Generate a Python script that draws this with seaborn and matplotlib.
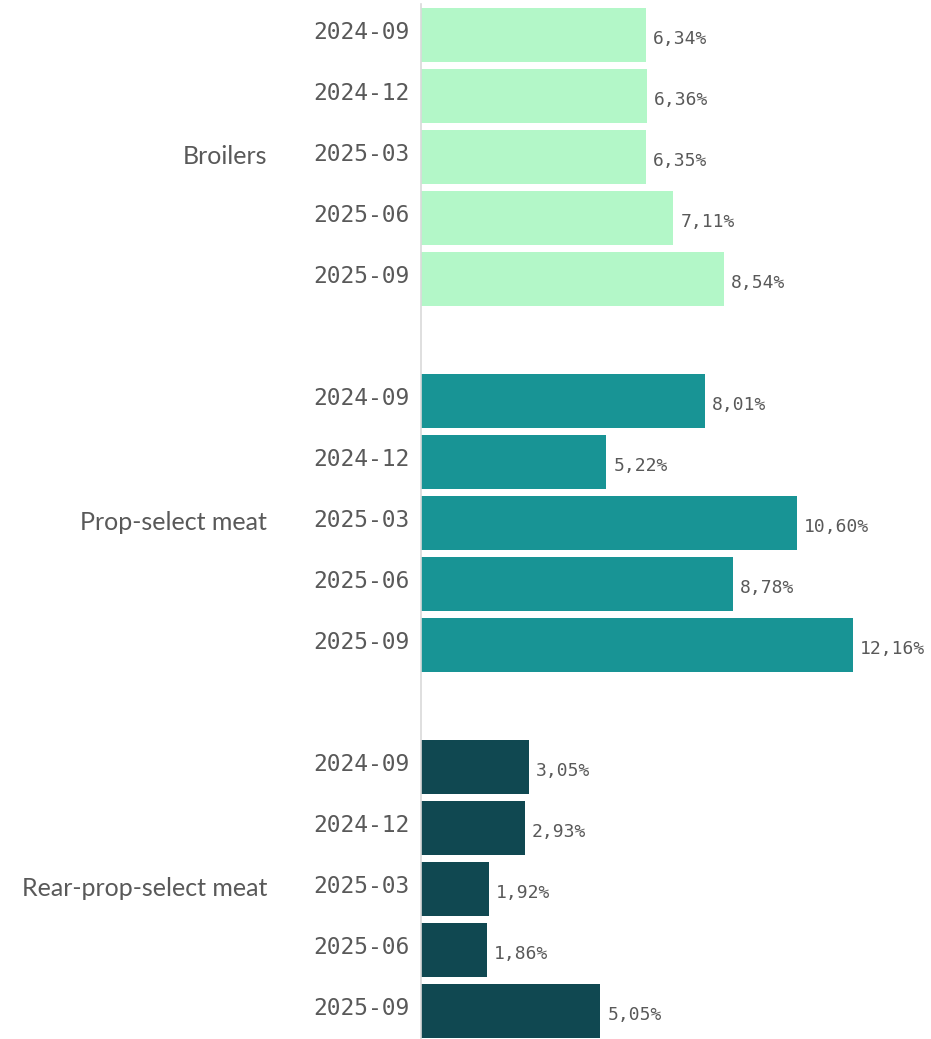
import matplotlib
matplotlib.use("Agg")
import matplotlib.pyplot as plt
import matplotlib.transforms as mtransforms
import seaborn as sns
import pandas as pd

groups = ["Broilers", "Prop-select meat", "Rear-prop-select meat"]
periods = ["2024-09", "2024-12", "2025-03", "2025-06", "2025-09"]
broilers = [6.34, 6.36, 6.35, 7.11, 8.54]
prop_select = [8.01, 5.22, 10.60, 8.78, 12.16]
rear_prop_select = [3.05, 2.93, 1.92, 1.86, 5.05]
colors = ["#b3f7c8", "#189495", "#104851"]

values = [broilers, prop_select, rear_prop_select]
rows = []
for g, vals in zip(groups, values):
    for p, v in zip(periods, vals):
        rows.append({"group": g, "period": p, "key": f"{g}|{p}", "value": v})
df = pd.DataFrame(rows)

order = []
ticklabels = []
for i, g in enumerate(groups):
    for p in periods:
        order.append(f"{g}|{p}")
        ticklabels.append(p)
    if i < len(groups) - 1:
        order.append(f"spacer{i}")
        ticklabels.append("")

sns.set_style("white")
W, H = 931, 1039
fig = plt.figure(figsize=(W / 100, H / 100), dpi=100)
pitch = 61
top_px = 35 - pitch / 2
n = len(order)
ax_left = 421 / W
ax_h = n * pitch / H
ax_bottom = 1 - (top_px + n * pitch) / H
ax = fig.add_axes([ax_left, ax_bottom, 1 - ax_left, ax_h])

sns.barplot(data=df, y="key", x="value", hue="group", order=order,
            hue_order=groups, palette=colors, dodge=False, width=0.9,
            orient="h", legend=False, ax=ax, saturation=1, linewidth=0)

ax.set_xlim(0, (W - 421) / 35.5)
ax.set_ylim(n - 0.5, -0.5)
for c in ax.containers:
    texts = ax.bar_label(c, fmt=lambda v: f"{v:.2f}%".replace(".", ","), padding=5,
                         fontsize=13, color="#595959", family="DejaVu Sans Mono")
    for t in texts:
        t.set_va("center")
        t.xyann = (t.xyann[0], -3)

ax.set_yticks(range(n))
ax.set_yticklabels(ticklabels, family="DejaVu Sans Mono", fontsize=16.5, color="#595959")
ax.tick_params(axis="y", length=0, pad=8)
shift = mtransforms.ScaledTranslation(0, 0.045, fig.dpi_scale_trans)
for lab in ax.get_yticklabels():
    lab.set_transform(lab.get_transform() + shift)
ax.set_xticks([])
ax.set_xlabel("")
ax.set_ylabel("")
for s in ["top", "right", "bottom"]:
    ax.spines[s].set_visible(False)
ax.spines["left"].set_color("#d9d9d9")
ax.spines["left"].set_linewidth(1.2)

trans = mtransforms.blended_transform_factory(fig.transFigure, ax.transData)
for i, g in enumerate(groups):
    ax.text(267 / W, i * 6 + 2, g, transform=trans, ha="right", va="center",
            fontsize=18, color="#595959", family="Lato")

fig.savefig("out.png", dpi=100)
